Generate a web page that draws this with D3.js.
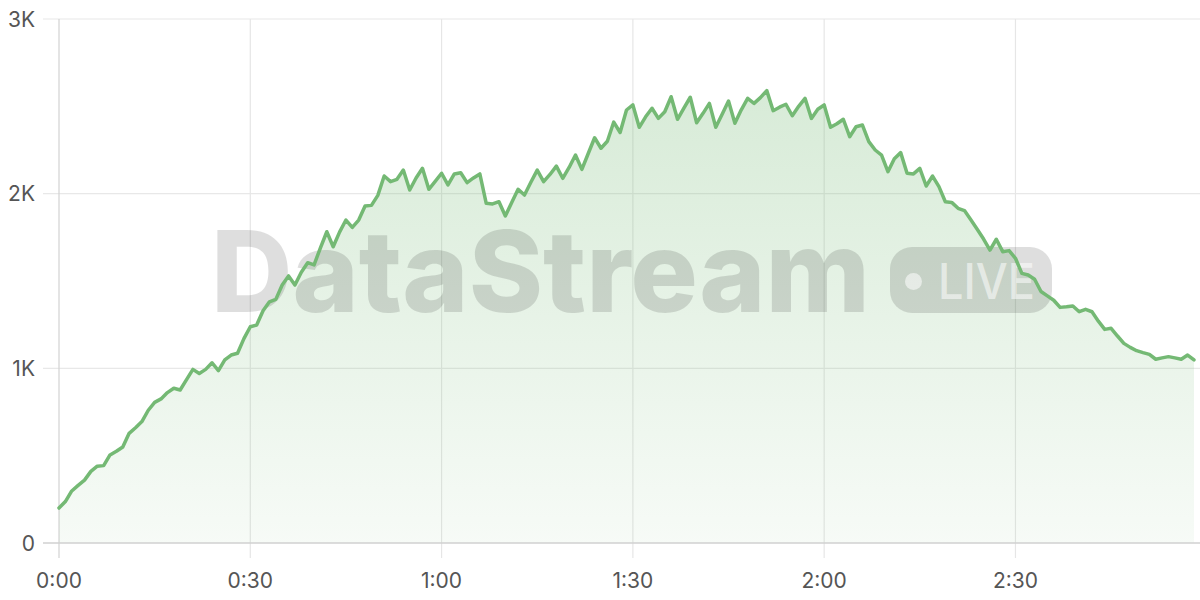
<!DOCTYPE html>
<html>
<head>
<meta charset="utf-8">
<script src="https://cdn.jsdelivr.net/npm/d3@7"></script>
<style>
  html, body { margin: 0; padding: 0; background: #ffffff; }
  svg { display: block; }
</style>
</head>
<body>
<svg id="chart" width="1200" height="600"></svg>
<script>
// ---- data (one value per minute, 0:00 .. 2:58) ----
const minutes = d3.range(0, 179);
const viewers = [
  200, 237, 298, 330, 360, 410, 440, 443, 504, 525,
  550, 628, 660, 695, 760, 805, 825, 861, 886, 876,
  935, 994, 971, 994, 1032, 987, 1048, 1076, 1086, 1170,
  1238, 1248, 1330, 1381, 1395, 1477, 1529, 1477, 1550, 1605,
  1592, 1690, 1782, 1696, 1780, 1849, 1807, 1849, 1929, 1933,
  1990, 2101, 2069, 2082, 2135, 2021, 2090, 2145, 2025, 2070,
  2117, 2050, 2113, 2120, 2063, 2090, 2113, 1945, 1941, 1954,
  1872, 1950, 2025, 1992, 2065, 2135, 2069, 2110, 2158, 2088,
  2150, 2221, 2139, 2230, 2320, 2260, 2300, 2410, 2350, 2479,
  2508, 2380, 2440, 2489, 2431, 2469, 2555, 2426, 2490, 2552,
  2406, 2460, 2517, 2380, 2455, 2530, 2403, 2480, 2546, 2517,
  2550, 2590, 2475, 2495, 2512, 2446, 2500, 2546, 2431, 2483,
  2508, 2380, 2400, 2426, 2326, 2383, 2393, 2298, 2250, 2221,
  2126, 2200, 2235, 2117, 2113, 2145, 2044, 2101, 2040, 1954,
  1950, 1916, 1903, 1850, 1796, 1740, 1677, 1739, 1668, 1674,
  1630, 1544, 1534, 1510, 1440, 1415, 1390, 1349, 1352, 1357,
  1324, 1338, 1324, 1270, 1223, 1229, 1185, 1143, 1120, 1101,
  1090, 1080, 1052, 1060, 1067, 1060, 1052, 1076, 1048
];
const xTickValues = [0, 30, 60, 90, 120, 150];
const xTickLabels = ["0:00", "0:30", "1:00", "1:30", "2:00", "2:30"];
const yTickValues = [0, 1000, 2000, 3000];
const yTickLabels = ["0", "1K", "2K", "3K"];
const watermarkText = "DataStream";
const badgeText = "LIVE";

(function () {
const data = minutes.map((m, i) => ({ m, v: viewers[i] }));

// ---- layout ----
const svg = d3.select("#chart");
const pLeft = 59, pRight = 1194, pTop = 19, pBottom = 543;

const x = d3.scaleLinear().domain([0, 178]).range([pLeft, pRight]);
const y = d3.scaleLinear().domain([0, 3000]).range([pBottom, pTop]);

const FONT = "Inter, 'Noto Sans', 'DejaVu Sans', sans-serif";
const green = "#74b974";

// gradient
const defs = svg.append("defs");
const grad = defs.append("linearGradient")
  .attr("id", "areaGrad").attr("gradientUnits", "userSpaceOnUse")
  .attr("x1", 0).attr("x2", 0).attr("y1", pTop).attr("y2", pBottom);
grad.append("stop").attr("offset", "0%").attr("stop-color", green).attr("stop-opacity", 0.32);
grad.append("stop").attr("offset", "100%").attr("stop-color", green).attr("stop-opacity", 0.06);

// horizontal grid
svg.append("g").selectAll("line")
  .data(yTickValues.filter(d => d > 0))
  .join("line")
  .attr("x1", 43).attr("x2", 1200)
  .attr("y1", d => y(d)).attr("y2", d => y(d))
  .attr("stroke", "#e8e8e8").attr("stroke-width", 1.2);

// vertical grid
svg.append("g").selectAll("line")
  .data(xTickValues)
  .join("line")
  .attr("x1", d => x(d)).attr("x2", d => x(d))
  .attr("y1", pTop).attr("y2", 558)
  .attr("stroke", d => d === 0 ? "#d2d2d2" : "#e6e6e6").attr("stroke-width", 1.2);

// area
const area = d3.area().x(d => x(d.m)).y0(y(0)).y1(d => y(d.v)).curve(d3.curveLinear);
svg.append("path").datum(data).attr("d", area).attr("fill", "url(#areaGrad)");

// watermark
const wm = svg.append("g").attr("pointer-events", "none");
wm.append("text")
  .attr("x", 211).attr("y", 312)
  .attr("font-family", FONT).attr("font-weight", 800).attr("font-size", 113)
  .attr("textLength", 659).attr("lengthAdjust", "spacingAndGlyphs")
  .attr("fill", "#000").attr("fill-opacity", 0.13)
  .text(watermarkText);
wm.append("rect")
  .attr("x", 890).attr("y", 247).attr("width", 162).attr("height", 66).attr("rx", 22)
  .attr("fill", "#000").attr("fill-opacity", 0.13);
wm.append("circle")
  .attr("cx", 913.5).attr("cy", 281.5).attr("r", 8.5)
  .attr("fill", "#fff").attr("fill-opacity", 0.55);
wm.append("text")
  .attr("x", 938).attr("y", 298.5)
  .attr("font-family", FONT).attr("font-weight", 500).attr("font-size", 50)
  .attr("textLength", 97).attr("lengthAdjust", "spacingAndGlyphs")
  .attr("fill", "#fff").attr("fill-opacity", 0.55)
  .text(badgeText);

// baseline
svg.append("line")
  .attr("x1", 43).attr("x2", 1200).attr("y1", y(0)).attr("y2", y(0))
  .attr("stroke", "#d0d0d0").attr("stroke-width", 1.5);

// line
const line = d3.line().x(d => x(d.m)).y(d => y(d.v)).curve(d3.curveLinear);
svg.append("path").datum(data).attr("d", line)
  .attr("fill", "none").attr("stroke", green).attr("stroke-width", 3.5)
  .attr("stroke-linejoin", "round").attr("stroke-linecap", "round");

// y labels
svg.append("g").selectAll("text")
  .data(yTickValues)
  .join("text")
  .attr("x", 35).attr("y", d => y(d)).attr("dy", "0.36em")
  .attr("text-anchor", "end")
  .attr("font-family", FONT).attr("font-size", 21).attr("fill", "#555")
  .text((d, i) => yTickLabels[i]);

// x labels
svg.append("g").selectAll("text")
  .data(xTickValues)
  .join("text")
  .attr("x", d => x(d)).attr("y", 588)
  .attr("text-anchor", "middle")
  .attr("font-family", FONT).attr("font-size", 21).attr("fill", "#555")
  .text((d, i) => xTickLabels[i]);
})();
</script>
</body>
</html>
